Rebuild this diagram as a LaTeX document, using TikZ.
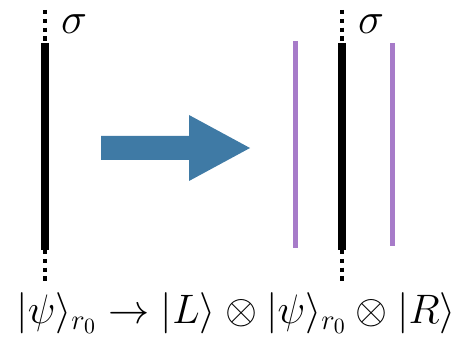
\documentclass[tikz,border=0pt]{standalone}
\usepackage{amsmath,amssymb}
\usepackage{tikz}
\usetikzlibrary{positioning}

\definecolor{arrowblue}{HTML}{3F7AA5}
\definecolor{chainpurple}{HTML}{A77BC9}

\begin{document}
\begin{tikzpicture}[
  x=0.02cm, y=-0.02cm,
  spin/.style={line width=0.15cm, black},
  site/.style={dash pattern=on 2.4pt off 2.6pt, line width=2pt},
  half/.style={line width=0.1cm, chainpurple},
  lbl/.style={inner sep=0pt, font=\fontsize{26}{29}\selectfont}
]
  \useasboundingbox (0,0) rectangle (466,344);
  % left: single spin
  \coordinate (Ltop) at (45,43);  \coordinate (Lbot) at (45,250);
  \coordinate (Lup)  at (45,10);  \coordinate (Ldn)  at (45,283);
  \draw[site] (Lup) -- (Ltop);
  \draw[site] (Lbot) -- (Ldn);
  \draw[spin] (Ltop) -- (Lbot);
  \node[lbl] (sigL) at (74,24) {$\sigma$};
  % arrow
  \fill[arrowblue] (101,136) -- (189,136) -- (189,115) -- (250,148)
    -- (189,181) -- (189,160) -- (101,160) -- cycle;
  % right: spin with its two halves
  \coordinate (Rtop) at (342,43);  \coordinate (Rbot) at (342,250);
  \coordinate (Rup)  at (342,10);  \coordinate (Rdn)  at (342,283);
  \draw[site] (Rup) -- (Rtop);
  \draw[site] (Rbot) -- (Rdn);
  \draw[spin] (Rtop) -- (Rbot);
  \node[lbl] (sigR) at (371,24) {$\sigma$};
  \coordinate (Atop) at (295,41);  \coordinate (Abot) at (295,248);
  \coordinate (Btop) at (392,43);  \coordinate (Bbot) at (392,246);
  \draw[half] (Atop) -- (Abot);
  \draw[half] (Btop) -- (Bbot);
  % formula
  \node[lbl, font=\fontsize{22.5}{26}\selectfont] (eq) at (236,313)
    {\scalebox{1.13}{$|\psi\rangle_{r_0} \rightarrow |L\rangle \otimes |\psi\rangle_{r_0} \otimes |R\rangle$}};
\end{tikzpicture}
\end{document}
